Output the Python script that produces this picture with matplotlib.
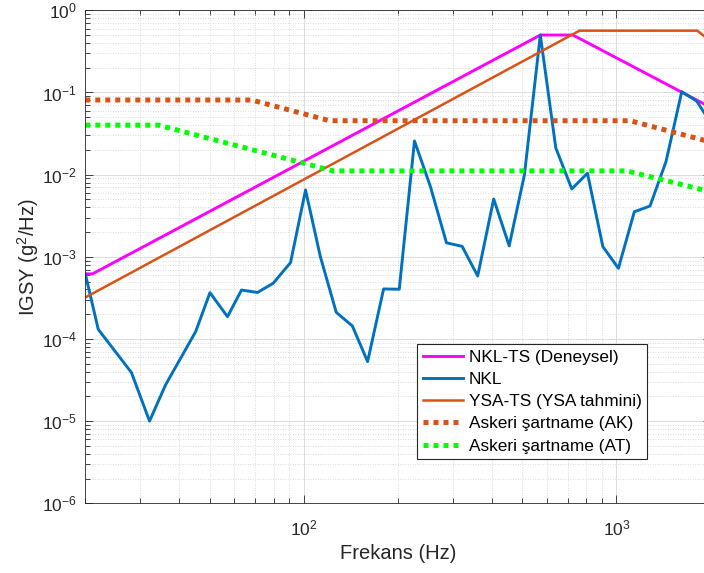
import matplotlib
matplotlib.use("Agg")
import matplotlib.pyplot as plt
from matplotlib.ticker import NullFormatter

plt.rcParams['font.family'] = ['Liberation Sans', 'DejaVu Sans']
plt.rcParams['mathtext.default'] = 'regular'

# NKL-TS (Deneysel): test spectrum envelope breakpoints
nklts_f = [20, 21.1, 571, 726, 2000]
nklts_g = [6.2e-4, 6.2e-4, 0.50, 0.50, 0.066]

# NKL: measured PSD
nkl_f = [20, 22.0, 28.1, 32.1, 36.1, 45.1, 50.1, 57.0, 63.2, 71.1, 79.8, 90.7,
         101.3, 113, 127, 143, 160, 180, 202, 226, 254, 286, 321, 360, 405,
         454, 508, 571, 640, 720, 808, 905, 1015, 1141, 1281, 1441, 1618,
         1806, 2000]
nkl_g = [6.2e-4, 1.31e-4, 3.9e-5, 1.0e-5, 2.75e-5, 1.23e-4, 3.66e-4, 1.87e-4,
         3.94e-4, 3.68e-4, 4.76e-4, 8.5e-4, 6.5e-3, 1.0e-3, 2.11e-4, 1.44e-4,
         5.3e-5, 4.06e-4, 4.03e-4, 2.57e-2, 7.2e-3, 1.48e-3, 1.34e-3, 5.84e-4,
         5.05e-3, 1.36e-3, 1.0e-2, 0.50, 2.11e-2, 6.7e-3, 1.04e-2, 1.33e-3,
         7.25e-4, 3.53e-3, 4.15e-3, 1.44e-2, 0.102, 0.0787, 0.043]

# YSA-TS (YSA tahmini): predicted test spectrum
ysa_f = [20, 762, 1815, 2000]
ysa_g = [3.2e-4, 0.565, 0.565, 0.42]

# Askeri şartname (AK)
ak_f = [20, 68, 121, 1106, 2000]
ak_g = [0.081, 0.081, 0.0453, 0.0453, 0.025]

# Askeri şartname (AT)
at_f = [20, 34.3, 124, 1079, 2000]
at_g = [0.040, 0.040, 0.0111, 0.0111, 0.0062]

labels = ['NKL-TS (Deneysel)', 'NKL', 'YSA-TS (YSA tahmini)',
          'Askeri şartname (AK)', 'Askeri şartname (AT)']

W, H = 704, 573
fig = plt.figure(figsize=(W / 100, H / 100), dpi=100)
x0, x1, y0, y1 = 85.3, 710.5, 10.3, 503.3
ax = fig.add_axes([x0 / W, (H - y1) / H, (x1 - x0) / W, (y1 - y0) / H])

dot = dict(linestyle=(0, (1, 1)), dash_capstyle='butt', linewidth=3.6)
h1, = ax.loglog(nklts_f, nklts_g, color='#FF00FF', lw=2.1)
h2, = ax.loglog(nkl_f, nkl_g, color='#0072BD', lw=2.1)
h3, = ax.loglog(ysa_f, ysa_g, color='#D95319', lw=1.8)
h4, = ax.loglog(ak_f, ak_g, color='#D95319', **dot)
h5, = ax.loglog(at_f, at_g, color='#00FF00', **dot)

ax.set_xlim(20, 2000)
ax.set_ylim(1e-6, 1)
ax.xaxis.set_minor_formatter(NullFormatter())
ax.yaxis.set_minor_formatter(NullFormatter())
ax.set_axisbelow(True)
ax.grid(which='major', color='#dcdcdc', lw=0.7, ls='-')
ax.grid(which='minor', color='#cfcfcf', lw=0.6, ls=(0, (1, 2)))

ax.tick_params(which='both', direction='in', top=True, right=True,
               colors='#262626', width=0.6)
ax.tick_params(which='major', length=6, labelsize=12.5)
ax.tick_params(which='minor', length=3.5)
ax.tick_params(axis='x', which='major', pad=11)
ax.tick_params(axis='y', which='major', pad=6)
for s in ax.spines.values():
    s.set_color('#262626')
    s.set_linewidth(0.6)

ax.set_xlabel('Frekans (Hz)', fontsize=14.5, color='#262626')
ax.set_ylabel('IGSY (g$^2$/Hz)', fontsize=14.5, color='#262626')
ax.xaxis.set_label_coords(0.5, (y1 - 544) / (y1 - y0))
ax.yaxis.set_label_coords((41 - x0) / (x1 - x0), 0.5)

leg = ax.legend([h1, h2, h3, h4, h5], labels, loc='upper left',
                bbox_to_anchor=(417.3 / W, 1 - 344 / H),
                bbox_transform=fig.transFigure, borderaxespad=0,
                fontsize=12.4, handlelength=2.33, handletextpad=0.35,
                labelspacing=0.42, borderpad=0.32, frameon=True,
                fancybox=False, framealpha=1, edgecolor='#262626')
leg.get_frame().set_linewidth(0.8)

fig.savefig('out.png', dpi=100)
